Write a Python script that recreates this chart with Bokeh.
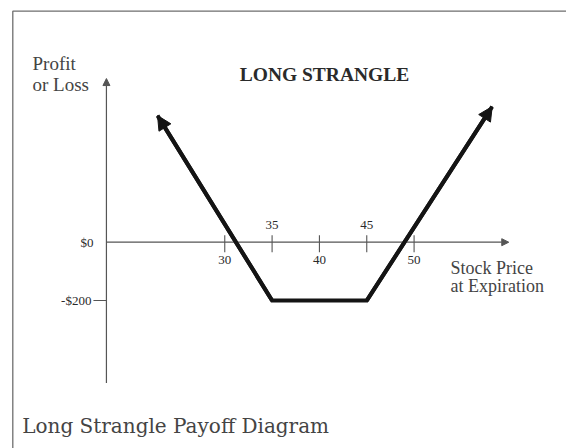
from bokeh.plotting import figure
from bokeh.models import Arrow, NormalHead, Label, LabelSet, Range1d, ColumnDataSource
from bokeh.embed import file_html
from bokeh.resources import INLINE

# Long strangle payoff (35 put / 45 call, $200 debit)
price = [22.9, 35, 45, 58.25]
pnl = [434, -200, -200, 465]

x_ticks = [30, 35, 40, 45, 50]
x_tick_labels = ["30", "35", "40", "45", "50"]
x_ticks_above = [35, 45]

y_ticks = [0, -200]
y_tick_labels = ["$0", "-$200"]

W, H = 566, 448
X0, X1 = 6.31, 66.10
Y0, Y1 = -707.2, 828.6

# axis extents in data units
y_axis_x = 17.5
y_axis_lo, y_axis_hi = -483, 561
x_axis_end = 60.0


def px_to_x(px):
    return X0 + (X1 - X0) * px / W


def py_to_y(py):
    return Y1 - (Y1 - Y0) * py / H


SERIF = "Liberation Serif"
INK = "#2a2a2a"
SOFT = "#444444"

p = figure(width=W, height=H, output_backend="svg", toolbar_location=None,
           x_range=Range1d(X0, X1), y_range=Range1d(Y0, Y1),
           min_border=0, min_border_left=0, min_border_right=0,
           min_border_top=0, min_border_bottom=0)
p.axis.visible = False
p.grid.visible = False
p.outline_line_color = None
p.background_fill_color = "white"
p.border_fill_color = "white"

# frame around the diagram (top and left edges)
bx, by = px_to_x(12.3), py_to_y(10.7)
p.line([bx, bx, X1 + 1], [Y0 - 10, by, by], line_color="#6e6e6e", line_width=1.3)

# axes with arrow heads
axis_col = "#555555"
p.add_layout(Arrow(x_start=y_axis_x, y_start=y_axis_lo, x_end=y_axis_x, y_end=y_axis_hi,
                   line_color=axis_col, line_width=1.2,
                   end=NormalHead(size=7, fill_color=axis_col, line_color=axis_col)))
p.add_layout(Arrow(x_start=y_axis_x, y_start=0, x_end=x_axis_end, y_end=0,
                   line_color=axis_col, line_width=1.2,
                   end=NormalHead(size=7, fill_color=axis_col, line_color=axis_col)))

# x ticks crossing the axis
tick_dy = (Y1 - Y0) / H  # data units per screen pixel vertically
p.segment(x0=x_ticks, x1=x_ticks, y0=[-10 * tick_dy] * len(x_ticks),
          y1=[7 * tick_dy] * len(x_ticks), line_color=axis_col, line_width=1.1)

# y tick at -200
tick_dx = (X1 - X0) / W
p.segment(x0=[y_axis_x - 13 * tick_dx], x1=[y_axis_x], y0=[y_ticks[1]], y1=[y_ticks[1]],
          line_color=axis_col, line_width=1.1)

# x tick labels: strikes above the axis, others below
above = [(t, l) for t, l in zip(x_ticks, x_tick_labels) if t in x_ticks_above]
below = [(t, l) for t, l in zip(x_ticks, x_tick_labels) if t not in x_ticks_above]
for group, dy in [(above, 17), (below, -18)]:
    src = ColumnDataSource(dict(x=[t for t, _ in group], y=[0] * len(group),
                                text=[l for _, l in group]))
    p.add_layout(LabelSet(x="x", y="y", text="text", source=src, y_offset=dy,
                          text_align="center", text_baseline="middle",
                          text_font=SERIF, text_font_size="13px", text_color=INK))

# y tick labels
ysrc = ColumnDataSource(dict(x=[y_axis_x] * len(y_ticks), y=y_ticks, text=y_tick_labels,
                             xo=[-13, -15]))
p.add_layout(LabelSet(x="x", y="y", text="text", source=ysrc, x_offset="xo",
                      text_align="right", text_baseline="middle",
                      text_font=SERIF, text_font_size="13px", text_color=INK))

# payoff line with arrow heads at both ends
line_col = "#141414"
p.line(price, pnl, line_color=line_col, line_width=4, line_join="miter")
for (xs, ys), (xe, ye) in [((price[1], pnl[1]), (price[0], pnl[0])),
                           ((price[2], pnl[2]), (price[3], pnl[3]))]:
    p.add_layout(Arrow(x_start=xs, y_start=ys, x_end=xe, y_end=ye,
                       line_color=line_col, line_width=4,
                       end=NormalHead(size=14, fill_color=line_col, line_color=line_col)))


def add_label(text, sx, sy, size, style="normal", align="left", color=INK, font=SERIF):
    p.add_layout(Label(x=sx, y=H - sy, x_units="screen", y_units="screen", text=text,
                       text_font=font, text_font_size=size, text_font_style=style,
                       text_align=align, text_baseline="middle", text_color=color))


add_label("LONG STRANGLE", 324, 73.5, "19.5px", style="bold", align="center")
add_label("Profit", 32, 63, "19px", color=SOFT)
add_label("or Loss", 32, 84, "19px", color=SOFT)
add_label("Stock Price", 450, 267.5, "18px", color=SOFT)
add_label("at Expiration", 450, 285, "18px", color=SOFT)
add_label("Long Strangle Payoff Diagram", 21.7, 425, "20px", color=SOFT,
          font="DejaVu Serif")

open("out.html", "w").write(file_html(p, INLINE))
